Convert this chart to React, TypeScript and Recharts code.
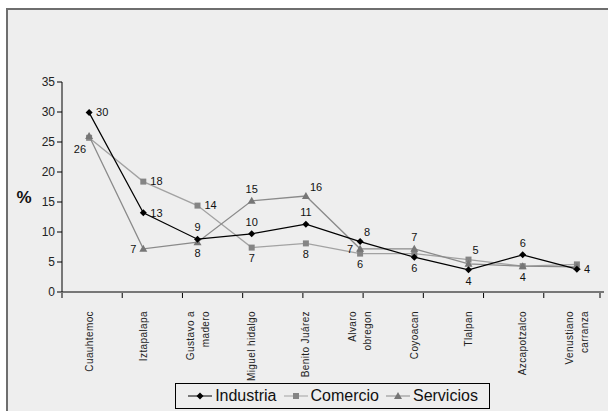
import * as React from 'react';
import { LineChart, Line, XAxis, YAxis } from 'recharts';

const FONT = 'Arial, "Liberation Sans", sans-serif';

const DELEGACIONES = [
  'Cuauhtemoc',
  'Iztapalapa',
  'Gustavo a\nmadero',
  'Miguel hidalgo',
  'Benito Juárez',
  'Alvaro\nobregon',
  'Coyoacan',
  'Tlalpan',
  'Azcapotzalco',
  'Venustiano\ncarranza',
];

const INDUSTRIA = [29.9, 13.2, 8.8, 9.7, 11.3, 8.4, 5.8, 3.7, 6.2, 3.8];
const COMERCIO = [25.7, 18.4, 14.4, 7.4, 8.1, 6.4, 6.4, 5.4, 4.3, 4.6];
const SERVICIOS = [26.0, 7.2, 8.3, 15.2, 16.0, 7.2, 7.2, 4.7, 4.3, 4.2];

const Y_TICKS = [0, 5, 10, 15, 20, 25, 30, 35];
const BOUNDARY_TICKS = [0, 1, 2, 3, 4, 5, 6, 7, 8, 9, 10];

// where each value label sits around its point ('' = no label)
const INDUSTRIA_LABELS = ['r', 'r', 't', 't', 't', 'tr', 'b', 'b', 't', 'r'];
const COMERCIO_LABELS = ['', 'r', 'r', 'b', 'b', 'b', '', 'tr', 'b', ''];
const SERVICIOS_LABELS = ['bl', 'l', 'b', 't', 'tr', 'l', 't', '', '', ''];

const data = DELEGACIONES.map((name, i) => ({
  name,
  industria: INDUSTRIA[i],
  comercio: COMERCIO[i],
  servicios: SERVICIOS[i],
}));

function makeLabel(places: string[]) {
  return (props: any) => {
    const { x, y, value, index } = props;
    const p = places[index];
    if (!p) return <g key={index} />;
    let dx = 0;
    let dy = 0;
    let anchor: 'start' | 'middle' | 'end' = 'middle';
    if (p === 'r') { dx = 7; anchor = 'start'; }
    if (p === 'l') { dx = -7; anchor = 'end'; }
    if (p === 't') { dy = -12; }
    if (p === 'b') { dy = 11; }
    if (p === 'tr') { dx = 4; dy = -9; anchor = 'start'; }
    if (p === 'bl') { dx = -3; dy = 13; anchor = 'end'; }
    return (
      <text
        key={index}
        x={x + dx}
        y={y + dy}
        dy="0.35em"
        textAnchor={anchor}
        fontSize={11}
        fontFamily={FONT}
        fill="#111"
      >
        {Math.round(value)}
      </text>
    );
  };
}

const Diamond = ({ cx, cy, fill }: any) => (
  <path d={`M${cx},${cy - 3.5}L${cx + 3.5},${cy}L${cx},${cy + 3.5}L${cx - 3.5},${cy}Z`} fill={fill} />
);
const Square = ({ cx, cy, fill }: any) => (
  <rect x={cx - 3} y={cy - 3} width={6} height={6} fill={fill} />
);
const Triangle = ({ cx, cy, fill }: any) => (
  <path d={`M${cx},${cy - 4}L${cx + 4},${cy + 3}L${cx - 4},${cy + 3}Z`} fill={fill} />
);

const CategoryTick = ({ x, y, payload }: any) => {
  const lines = String(payload.value).split('\n');
  const lh = 15;
  return (
    <g transform={`translate(${x},${y + 10}) rotate(-90)`}>
      <text textAnchor="end" fontSize={10} fontFamily={FONT} fill="#222" letterSpacing={0.4}>
        {lines.map((l, i) => (
          <tspan key={i} x={0} y={(i - (lines.length - 1) / 2) * lh} dy="0.35em">
            {l}
          </tspan>
        ))}
      </text>
    </g>
  );
};

const SERIES = [
  { name: 'Industria', stroke: '#000', marker: '#000', Shape: Diamond },
  { name: 'Comercio', stroke: '#a2a2a2', marker: '#858585', Shape: Square },
  { name: 'Servicios', stroke: '#8a8a8a', marker: '#767676', Shape: Triangle },
];

function LegendBox() {
  return (
    <div
      style={{
        position: 'absolute',
        left: 175,
        top: 383,
        width: 313,
        height: 24,
        border: '1px solid #000',
        display: 'flex',
        alignItems: 'center',
        justifyContent: 'center',
        gap: 6,
        fontFamily: FONT,
        fontSize: 16,
        color: '#111',
      }}
    >
      {SERIES.map(({ name, stroke, marker, Shape }) => (
        <div key={name} style={{ display: 'flex', alignItems: 'center', gap: 2 }}>
          <svg width={26} height={12}>
            <line x1={1} y1={6} x2={25} y2={6} stroke={stroke} strokeWidth={1} />
            <Shape cx={13} cy={6} fill={marker} />
          </svg>
          <span>{name}</span>
        </div>
      ))}
    </div>
  );
}

export default function App() {
  return (
    <div style={{ position: 'absolute', left: 0, top: 0, width: 608, height: 411, background: '#fff', overflow: 'hidden' }}>
      <div
        style={{
          position: 'absolute',
          left: 6,
          top: 8,
          width: 610,
          height: 410,
          borderLeft: '2px solid #6e6e6e',
          borderTop: '2px solid #6e6e6e',
          background: '#eeeeee',
        }}
      />
      <div style={{ position: 'absolute', left: 0, top: 0 }}>
        <LineChart
          width={608}
          height={411}
          data={data}
          margin={{ top: 82, right: 4, bottom: 29, left: 0 }}
        >
          <XAxis
            xAxisId="b"
            dataKey="name"
            scale="band"
            interval={0}
            height={89}
            axisLine={false}
            tickLine={false}
            tick={<CategoryTick />}
          />
          <XAxis
            xAxisId="a"
            type="number"
            domain={[0, 10]}
            ticks={BOUNDARY_TICKS}
            allowDataOverflow
            height={1}
            tick={(p: any) => <line x1={p.x} y1={p.y - 6} x2={p.x} y2={p.y - 1} stroke="#000" />}
            tickSize={5}
            axisLine={{ stroke: '#000' }}
            tickLine={false}
          />
          <YAxis
            width={62}
            domain={[0, 35]}
            ticks={Y_TICKS}
            tickSize={5}
            axisLine={{ stroke: '#000' }}
            tickLine={{ stroke: '#000' }}
            tick={{ fontSize: 12, fontFamily: FONT, fill: '#222' }}
            label={({ viewBox }: any) => (
              <text
                x={viewBox.x + 24}
                y={viewBox.y + viewBox.height * 0.548}
                dy="0.35em"
                textAnchor="middle"
                fontSize={17}
                fontWeight="bold"
                fontFamily={FONT}
                fill="#111"
              >
                %
              </text>
            )}
          />
          <Line
            xAxisId="b"
            dataKey="comercio"
            stroke={SERIES[1].stroke}
            strokeWidth={1.3}
            dot={<Square fill={SERIES[1].marker} />}
            label={makeLabel(COMERCIO_LABELS)}
            isAnimationActive={false}
          />
          <Line
            xAxisId="b"
            dataKey="servicios"
            stroke={SERIES[2].stroke}
            strokeWidth={1.3}
            dot={<Triangle fill={SERIES[2].marker} />}
            label={makeLabel(SERVICIOS_LABELS)}
            isAnimationActive={false}
          />
          <Line
            xAxisId="b"
            dataKey="industria"
            stroke={SERIES[0].stroke}
            strokeWidth={1.2}
            dot={<Diamond fill={SERIES[0].marker} />}
            label={makeLabel(INDUSTRIA_LABELS)}
            isAnimationActive={false}
          />
        </LineChart>
      </div>
      <LegendBox />
    </div>
  );
}
